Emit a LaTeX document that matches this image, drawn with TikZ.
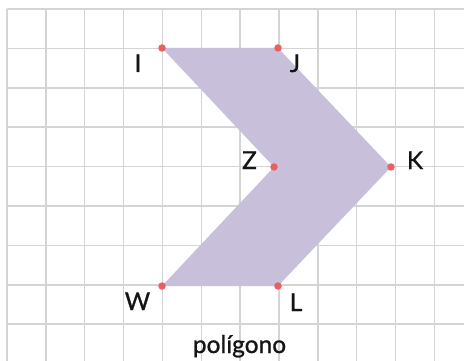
\documentclass[tikz,border=0pt]{standalone}
\usepackage{fontspec}
\setmainfont{Lato}
\newfontfamily\labfont{Lato}[FakeBold=0.9]
\definecolor{gridc}{HTML}{D4D4D4}
\definecolor{fillc}{HTML}{C8BFDA}
\definecolor{dotc}{HTML}{E8605F}
\tikzset{
  gridline/.style={draw=gridc, line width=1.5pt},
  vertex/.style={circle, fill=dotc, inner sep=0pt, minimum size=7.5pt},
  lab/.style={anchor=base, inner sep=0pt, font=\labfont\fontsize{24.5}{24.5}\selectfont, text=black!92},
}
\begin{document}
\begin{tikzpicture}[x=1pt,y=-1pt]
\useasboundingbox (0,0) rectangle (464,361);
\fill[white] (0,0) rectangle (464,361);
% grid
\foreach \k in {0,...,11} {
  \draw[gridline] ({7+38.85*\k},9) -- ({7+38.85*\k},361);
}
\foreach \k in {0,...,8} {
  \draw[gridline] (7,{9+39.4*\k}) -- (464,{9+39.4*\k});
}
% vertices
\coordinate (I) at (162,48);
\coordinate (J) at (278,48);
\coordinate (K) at (391,167);
\coordinate (L) at (278,286);
\coordinate (W) at (162,286);
\coordinate (Z) at (274,167);
\fill[fillc] (I) -- (J) -- (K) -- (L) -- (W) -- (Z) -- cycle;
\foreach \p in {I,J,K,L,W,Z} { \node[vertex] (d\p) at (\p) {}; }
% labels
\node[lab] (tI) at (138,72) {I};
\node[lab] (tJ) at (295,72) {J};
\node[lab] (tZ) at (249.5,169) {Z};
\node[lab] (tK) at (415,169) {K};
\node[lab] (tW) at (137.5,310) {W};
\node[lab] (tL) at (296,311) {L};
\node[lab] (tP) at (239.5,353) {polígono};
\end{tikzpicture}
\end{document}
